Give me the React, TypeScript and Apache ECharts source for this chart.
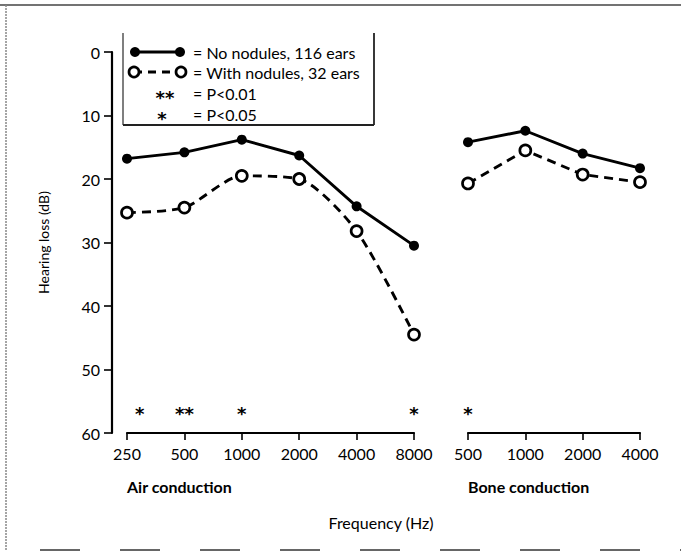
import React, { useEffect, useRef } from 'react';
import * as echarts from 'echarts';

const airFreq = ['250', '500', '1000', '2000', '4000', '8000'];
const boneFreq = ['500', '1000', '2000', '4000'];
const airNoNodules = [16.8, 15.8, 13.8, 16.3, 24.3, 30.5];
const airWithNodules = [25.3, 24.5, 19.5, 20, 28.2, 44.5];
const boneNoNodules = [14.2, 12.4, 16, 18.3];
const boneWithNodules = [20.7, 15.5, 19.3, 20.5];
const airStars: [number, string][] = [[0.22, '*'], [1, '**'], [2, '*'], [5, '*']];
const boneStars: [number, string][] = [[0, '*']];
const starLevel = 56.3;
const yMin = 0;
const yMax = 60;
const yStep = 10;

const FONT = 'Lato, "Noto Sans", sans-serif';
const STAR_FONT = '"DejaVu Sans", sans-serif';

export default function App() {
  const ref = useRef<HTMLDivElement>(null);
  useEffect(() => {
    const chart = echarts.init(ref.current!, null, { renderer: 'svg' });
    const top = 52;
    const bottom = 433;
    const axisCommon = {
      type: 'value' as const,
      min: 0,
      interval: 1,
      axisLine: { show: true, onZero: false, lineStyle: { color: '#000', width: 2.2 } },
      axisTick: { show: true, length: 7, lineStyle: { color: '#000', width: 1.6 } },
      splitLine: { show: false },
    };
    const lineBase = { color: '#000', width: 2.9 };
    const filled = { color: '#000' };
    const open = { color: '#fff', borderColor: '#000', borderWidth: 2.7 };
    const starSeries = (idx: number, stars: [number, string][]) => ({
      type: 'scatter',
      xAxisIndex: idx,
      yAxisIndex: idx,
      symbolSize: 1,
      itemStyle: { color: '#000', opacity: 1 },
      silent: true,
      z: 4,
      data: stars.map(([x, s]) => [x, starLevel, s]),
      label: {
        show: true,
        position: 'inside',
        formatter: (p: any) => p.value[2],
        color: '#000',
        textBorderWidth: 0,
        textBorderColor: 'transparent',
        fontSize: 18,
        fontWeight: 'bold',
        fontFamily: STAR_FONT,
        offset: [0, 4],
      },
    });
    const lx = 123, rx = 374, ly0 = top;
    const rows = [ly0, ly0 + 20, ly0 + 41, ly0 + 62];
    const txt = (x: number, y: number, t: string, extra: any = {}) => ({
      type: 'text',
      x, y,
      style: { text: t, fill: '#000', font: `16px ${FONT}`, textVerticalAlign: 'middle', ...extra },
    });
    chart.setOption({
      animation: false,
      backgroundColor: '#fff',
      grid: [
        { left: 127, top, width: 287, height: bottom - top },
        { left: 468, top, width: 172, height: bottom - top },
      ],
      xAxis: [
        {
          ...axisCommon, gridIndex: 0, max: airFreq.length - 1,
          axisLabel: { formatter: (v: number) => airFreq[v] ?? '', fontSize: 16, color: '#000', fontFamily: FONT, margin: 12 },
        },
        {
          ...axisCommon, gridIndex: 1, max: boneFreq.length - 1,
          axisLabel: { formatter: (v: number) => boneFreq[v] ?? '', fontSize: 16, color: '#000', fontFamily: FONT, margin: 12 },
        },
      ],
      yAxis: [
        {
          type: 'value', gridIndex: 0, inverse: true, min: yMin, max: yMax, interval: yStep, offset: 15,
          axisLine: { show: true, onZero: false, lineStyle: { color: '#000', width: 2.2 } },
          axisTick: { show: true, length: 8, lineStyle: { color: '#000', width: 1.6 } },
          axisLabel: { fontSize: 16, color: '#000', fontFamily: FONT, margin: 12 },
          splitLine: { show: false },
          name: 'Hearing loss (dB)', nameLocation: 'middle', nameGap: 62,
          nameTextStyle: { fontSize: 14, color: '#000', fontFamily: FONT },
        },
        {
          type: 'value', gridIndex: 1, inverse: true, min: yMin, max: yMax, interval: yStep, show: false,
        },
      ],
      series: [
        {
          name: 'No nodules', type: 'line', xAxisIndex: 0, yAxisIndex: 0,
          data: airNoNodules.map((v, i) => [i, v]), symbol: 'circle', symbolSize: 10,
          itemStyle: filled, lineStyle: lineBase, z: 3,
        },
        {
          name: 'With nodules', type: 'line', xAxisIndex: 0, yAxisIndex: 0, smooth: 0.25,
          data: airWithNodules.map((v, i) => [i, v]), symbol: 'circle', symbolSize: 11, showSymbol: true,
          itemStyle: open, lineStyle: { ...lineBase, type: [9, 6] }, z: 3,
        },
        {
          name: 'No nodules bone', type: 'line', xAxisIndex: 1, yAxisIndex: 1,
          data: boneNoNodules.map((v, i) => [i, v]), symbol: 'circle', symbolSize: 10,
          itemStyle: filled, lineStyle: lineBase, z: 3,
        },
        {
          name: 'With nodules bone', type: 'line', xAxisIndex: 1, yAxisIndex: 1,
          data: boneWithNodules.map((v, i) => [i, v]), symbol: 'circle', symbolSize: 11,
          itemStyle: open, lineStyle: { ...lineBase, type: [9, 6] }, z: 3,
        },
        starSeries(0, airStars),
        starSeries(1, boneStars),
      ],
      graphic: [
        // frame
        { type: 'line', shape: { x1: 0, y1: 5, x2: 681, y2: 5 }, style: { stroke: '#444', lineWidth: 1.5 } },
        { type: 'line', shape: { x1: 6, y1: 5, x2: 6, y2: 551 }, style: { stroke: '#888', lineWidth: 1.5, lineDash: [2, 1] } },
        { type: 'line', shape: { x1: 40, y1: 550, x2: 681, y2: 550 }, style: { stroke: '#666', lineWidth: 2, lineDash: [40, 40] } },
        // legend box
        { type: 'line', shape: { x1: lx, y1: ly0 - 19, x2: lx, y2: ly0 + 73 }, style: { stroke: '#555', lineWidth: 1.5 } },
        { type: 'line', shape: { x1: lx, y1: ly0 + 73, x2: rx, y2: ly0 + 73 }, style: { stroke: '#222', lineWidth: 1.8 } },
        { type: 'line', shape: { x1: rx, y1: ly0 - 19, x2: rx, y2: ly0 + 73 }, style: { stroke: '#222', lineWidth: 1.8 } },
        // legend row 1
        { type: 'line', shape: { x1: 135, y1: rows[0], x2: 180, y2: rows[0] }, style: { stroke: '#000', lineWidth: 2.9 } },
        { type: 'circle', shape: { cx: 135, cy: rows[0], r: 5 }, style: { fill: '#000' } },
        { type: 'circle', shape: { cx: 180, cy: rows[0], r: 5 }, style: { fill: '#000' } },
        txt(193, rows[0], '= No nodules, 116 ears'),
        // legend row 2
        { type: 'line', shape: { x1: 134, y1: rows[1], x2: 181, y2: rows[1] }, style: { stroke: '#000', lineWidth: 2.9, lineDash: [8, 6] } },
        { type: 'circle', shape: { cx: 134, cy: rows[1], r: 5 }, style: { fill: '#fff', stroke: '#000', lineWidth: 2.7 } },
        { type: 'circle', shape: { cx: 181, cy: rows[1], r: 5 }, style: { fill: '#fff', stroke: '#000', lineWidth: 2.7 } },
        txt(193, rows[1], '= With nodules, 32 ears'),
        // legend rows 3-4
        txt(165, rows[2] + 4, '**', { textAlign: 'center', font: `bold 18px ${STAR_FONT}` }),
        txt(193, rows[2], '= P<0.01'),
        txt(162, rows[3] + 4, '*', { textAlign: 'center', font: `bold 18px ${STAR_FONT}` }),
        txt(193, rows[3], '= P<0.05'),
        // axis group titles
        txt(127, 486, 'Air conduction', { font: `bold 16px ${FONT}` }),
        txt(468, 486, 'Bone conduction', { font: `bold 16px ${FONT}` }),
        txt(381, 522, 'Frequency (Hz)', { textAlign: 'center' }),
      ],
    });
    return () => chart.dispose();
  }, []);
  return <div ref={ref} style={{ position: 'absolute', left: 0, top: 0, width: 681, height: 553 }} />;
}
